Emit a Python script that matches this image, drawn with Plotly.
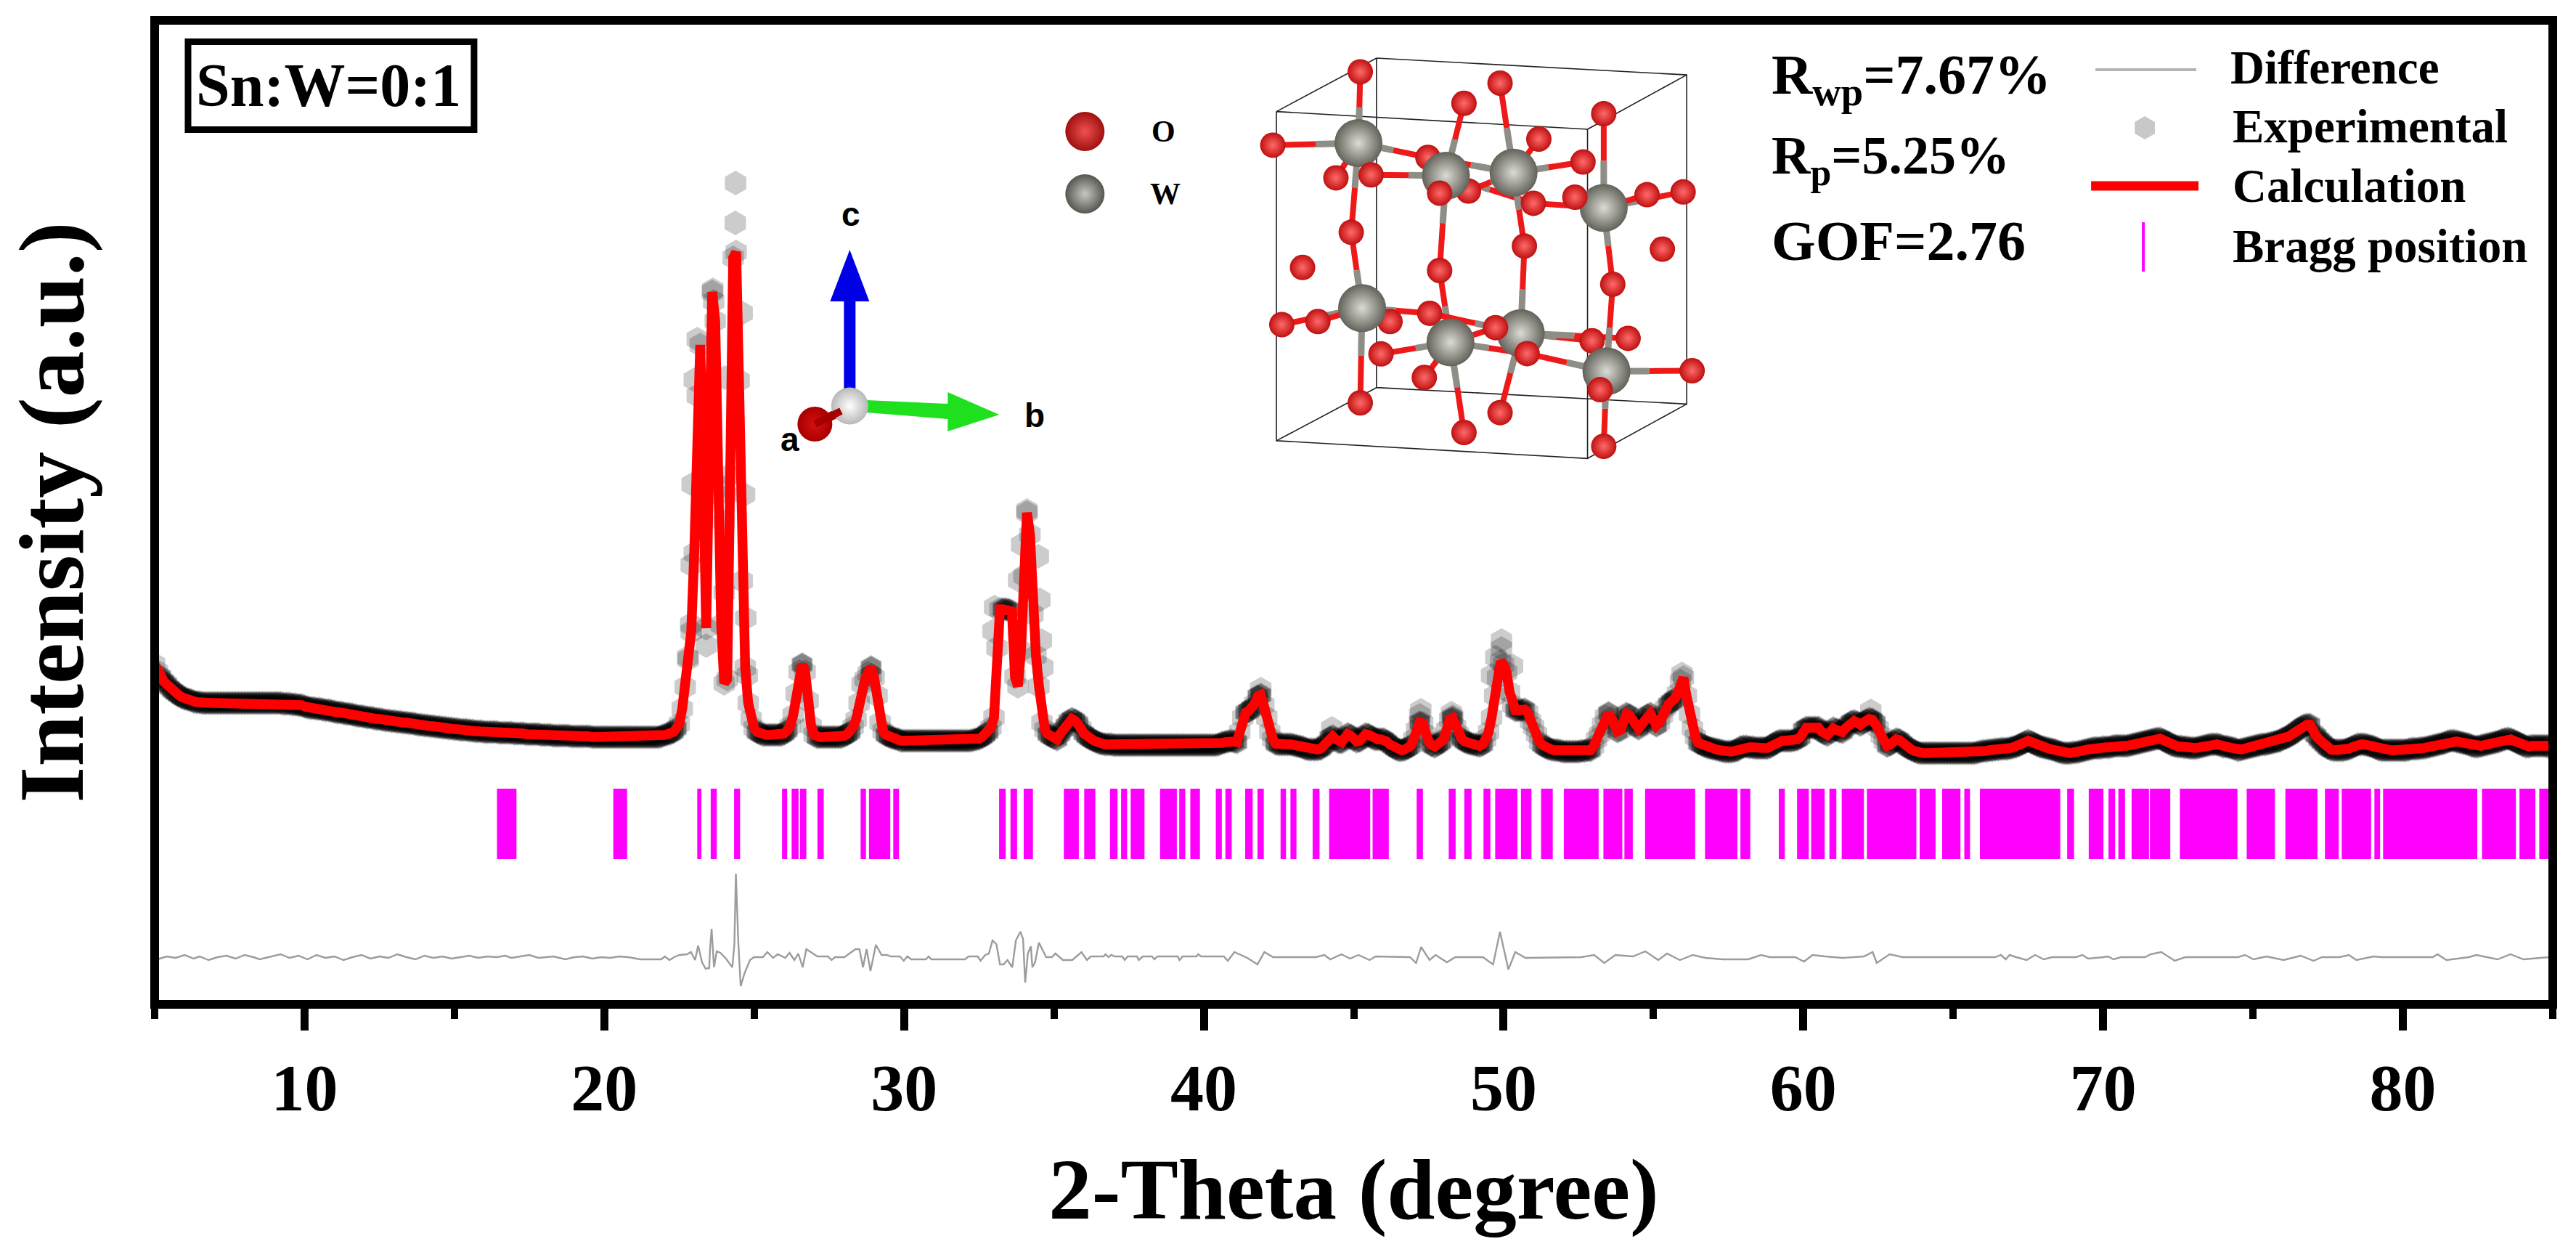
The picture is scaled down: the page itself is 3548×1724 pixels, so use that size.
import plotly.graph_objects as go

# ---------- data (intensity in arbitrary units) ----------
calc_intensity = [
468,458,451,445,441,436,432,429,426,423,
421,420,419,417,416,416,415,415,415,415,
415,415,415,415,415,415,415,415,415,415,
415,415,415,415,415,415,415,415,415,415,
415,415,415,414,414,414,413,413,412,412,
410,409,408,408,407,407,406,405,405,404,
403,402,402,401,400,400,399,398,397,397,
396,395,395,394,393,393,392,391,391,390,
390,389,389,388,388,387,387,386,385,385,
384,384,383,383,382,382,381,381,380,380,
379,379,378,378,378,377,377,376,376,376,
375,375,375,375,375,374,374,374,374,374,
373,373,373,373,372,372,372,372,372,371,
371,371,371,370,370,370,370,370,370,369,
369,369,369,369,369,369,368,368,368,368,
368,368,368,368,368,368,368,368,368,368,
368,368,368,368,368,368,368,368,368,369,
371,372,373,375,380,386,407,437,475,513,
621,838,908,729,518,757,981,941,702,523,
442,448,729,1028,1036,859,583,464,415,393,
380,375,373,371,371,371,371,371,371,371,
373,377,383,398,428,458,468,458,418,383,
371,368,368,368,368,368,368,368,368,368,
370,372,375,382,392,415,441,448,456,464,
450,425,388,376,371,369,367,366,365,363,
363,363,363,363,363,363,363,363,363,363,
363,363,363,363,363,363,363,363,363,363,
363,363,363,364,365,366,368,371,375,381,
395,491,544,544,544,543,541,451,438,487,
590,677,647,537,480,438,388,378,372,369,
367,365,372,378,384,390,393,391,387,380,
373,369,366,364,362,360,359,358,358,358,
357,357,357,357,357,357,357,357,357,357,
357,357,357,357,357,357,357,357,357,357,
357,357,357,357,357,357,357,357,357,357,
357,357,357,357,357,358,360,361,362,363,
362,361,375,395,402,404,408,414,424,426,
412,395,375,365,359,358,358,358,358,358,
357,356,355,354,352,351,351,351,351,352,
356,360,367,369,365,361,361,367,372,370,
365,362,363,368,372,371,368,365,365,365,
365,362,358,355,352,350,350,351,353,356,
365,378,388,387,372,362,357,355,358,361,
365,378,392,394,382,372,366,362,360,359,
358,357,356,358,365,375,395,425,450,472,
468,457,430,412,405,405,405,406,402,390,
382,372,361,357,354,352,351,350,350,349,
348,348,348,348,348,348,349,349,350,350,
355,365,372,385,396,401,394,384,376,378,
390,400,398,390,384,380,385,392,398,400,
392,384,388,398,408,413,417,420,428,445,
450,425,400,380,368,360,358,356,354,353,
352,351,350,349,348,348,348,349,350,354,
355,355,354,354,353,353,353,353,353,355,
358,361,363,363,363,363,363,364,365,368,
378,381,381,381,381,381,376,373,371,375,
380,378,376,375,380,385,389,390,388,385,
388,391,393,392,388,380,370,362,356,358,
362,365,364,360,356,353,351,349,347,346,
346,346,346,346,346,346,346,346,346,346,
346,346,346,346,346,346,346,346,347,348,
349,349,350,350,351,351,352,352,352,353,
354,355,357,359,361,363,361,359,357,355,
354,353,352,351,350,348,347,346,346,346,
347,347,348,349,350,351,352,353,353,353,
354,354,354,355,356,356,356,356,356,357,
358,359,360,361,362,363,364,365,366,366,
364,362,360,357,356,355,355,354,354,353,
353,353,354,355,356,357,358,358,358,357,
355,355,354,353,352,350,351,352,353,354,
355,356,357,358,358,359,360,361,362,363,
366,367,369,372,375,378,381,384,385,385,
374,370,365,361,357,353,351,350,350,350,
350,351,352,354,356,358,358,358,357,356,
355,353,351,350,350,350,350,350,350,350,
350,350,351,352,352,352,353,353,354,355,
356,357,358,359,360,362,363,363,362,361,
360,359,358,356,355,355,356,357,358,359,
360,361,362,364,365,366,365,363,361,359,
357,355,355,356,356,356,356,356,356,356,
351]
assert len(calc_intensity) == 801
two_theta = [round(5 + 0.1 * i, 1) for i in range(len(calc_intensity))]

# experimental points that stand clear of the calculated line
exp_extra_x = [24.38,24.37,23.62,23.1,23.65,24.6,23.0,24.02,22.93,24.68,22.9,22.88,24.72,24.0,24.0,23.4,22.78,24.77,23.9,
               34.1,34.48,33.82,34.53,34.58,33.92,32.97,33.02,34.63,
               49.93,49.93,49.74,50.3,49.6,47.24,47.2,48.26,48.3,55.95,44.27,28.9,41.9,62.25]
exp_extra_y = [1131,1076,984,916,968,952,860,863,716,702,605,523,532,664,567,494,478,453,713,
               680,617,584,557,501,633,514,547,464,
               501,490,478,466,453,405,398,401,396,455,380,453,434,404]

diff_x = [5.1,5.4,5.7,6.0,6.3,6.5,6.8,7.1,7.4,7.7,8.0,8.3,8.5,8.9,9.2,9.5,9.8,10.1,10.4,10.7,11.0,11.3,11.6,11.9,12.2,12.5,12.8,13.1,13.4,13.7,14.0,
          14.3,14.6,14.9,15.2,15.5,15.8,16.1,16.4,16.7,16.9,17.2,17.5,17.8,18.1,18.3,18.7,19.0,19.3,19.6,19.9,20.2,20.5,20.8,21.2,21.65,
          21.9,22.02,22.17,22.33,22.51,22.76,22.89,23.03,23.13,23.26,23.38,23.5,23.53,23.58,23.66,23.75,23.87,24.06,24.27,24.34,24.39,24.47,24.55,24.68,24.86,24.99,
          25.29,25.44,25.63,25.79,26.04,26.18,26.34,26.47,26.62,26.74,26.96,27.11,27.46,27.58,27.7,28.01,28.38,28.51,28.63,28.75,28.88,29.06,29.25,29.43,29.56,29.86,29.99,30.11,30.24,
          30.73,30.82,30.91,32.03,32.15,32.46,32.55,32.71,32.83,32.95,33.08,33.2,33.32,33.45,33.61,33.73,33.88,33.97,34.04,34.13,34.23,34.28,34.37,34.5,34.74,34.93,35.05,35.3,35.61,35.92,
          36.1,36.23,36.66,36.72,36.82,36.91,37.03,37.28,37.36,37.46,37.77,37.83,37.96,38.27,38.35,38.45,39.13,39.19,39.29,39.75,39.81,39.91,40.67,40.8,
          41.02,41.45,41.79,42.02,42.31,43.73,44.02,44.22,44.59,44.88,45.16,45.53,45.73,46.88,47.08,47.25,47.53,47.73,48.11,48.39,49.31,49.65,49.88,50.16,50.39,50.73,
          52.59,53.02,53.36,53.73,54.31,54.73,55.16,55.45,55.88,56.31,56.73,57.31,58.16,58.59,58.88,59.73,60.02,60.31,60.73,61.31,62.02,62.31,62.45,62.88,63.31,
          66.4,66.59,66.75,66.88,67.1,67.45,67.73,68.02,68.3,69.1,69.31,69.5,70.0,70.16,70.35,70.59,70.85,71.4,71.59,71.94,72.39,72.74,
          74.5,74.73,75.02,75.45,76.02,76.59,77.02,77.3,77.88,78.2,78.45,79.02,79.3,81.0,81.16,81.45,82.2,82.45,83.16,83.59,84.02,84.88]
diff_y = [62,66,64,68,63,66,61,65,67,63,68,65,62,66,69,64,67,62,68,64,66,61,65,68,63,66,64,69,65,62,67,
          64,66,63,65,67,64,66,65,67,64,66,68,64,65,66,62,65,66,63,65,64,66,65,62,62,
          62,66,61,65,68,69,72,61,81,58,49,50,78,104,51,73,71,63,51,83,180,86,25,43,61,65,
          65,72,64,69,64,71,61,70,51,76,70,66,66,61,65,65,76,76,51,76,46,82,68,68,66,66,60,66,62,
          62,66,62,62,66,66,60,68,70,88,83,55,55,61,51,88,100,90,30,70,80,51,58,85,65,65,70,61,61,72,
          61,66,66,69,65,68,66,66,61,66,66,61,66,66,62,66,66,61,66,66,69,66,66,60,
          72,64,55,72,65,65,68,62,69,63,68,61,66,65,57,79,61,68,58,65,65,55,100,48,72,64,
          65,68,57,68,66,73,61,70,61,68,64,62,62,68,65,65,59,68,66,64,66,72,57,69,65,
          65,68,62,68,65,61,68,62,65,65,68,63,65,66,62,65,65,65,69,72,60,65,
          65,68,62,66,61,67,60,65,65,68,61,66,65,65,69,61,65,68,62,69,62,65]
assert len(diff_x) == len(diff_y)

bragg_start = [16.42,20.3,23.1,23.55,24.33,25.93,26.25,26.53,27.11,28.55,28.83,29.64,33.17,33.55,33.99,35.33,36.01,36.87,37.24,37.56,38.54,39.18,39.55,40.4,40.72,41.38,41.79,42.56,42.89,
               43.63,44.18,45.63,47.1,48.17,48.69,49.33,49.72,50.58,51.25,52.01,53.33,54.03,54.72,56.72,57.9,59.18,59.79,60.26,60.87,61.28,62.12,63.88,64.63,65.37,65.89,68.8,69.52,70.18,70.51,70.95,
               71.56,72.56,74.79,76.08,77.4,77.96,79.05,79.34,82.64,83.89,84.55]
bragg_end = [17.07,20.76,23.24,23.75,24.53,26.1,26.48,26.74,27.32,28.73,29.54,29.83,33.39,33.77,34.3,35.83,36.38,37.12,37.44,38.02,39.1,39.38,39.87,40.6,40.93,41.63,42.0,42.74,43.09,
             43.86,45.55,46.17,47.31,48.4,48.93,49.56,50.46,50.93,51.64,53.17,53.96,54.31,56.39,57.8,58.23,59.38,60.18,60.71,61.1,62.02,63.77,64.41,65.24,65.56,68.57,69.03,70.01,70.4,70.73,71.53,
             72.24,74.48,75.73,77.15,77.86,78.94,79.24,82.48,83.77,84.42,84.86]
bragg_low, bragg_height = 200, 97

x_ticks = [10, 20, 30, 40, 50, 60, 70, 80]

# ---------- styling ----------
SERIF = "Liberation Serif"
W, H = 3548, 1724
L, R, T, B = 212.5, 3516, 28, 1383

fig = go.Figure()

# Bragg markers
fig.add_trace(go.Bar(
    x=[(a + b) / 2 for a, b in zip(bragg_start, bragg_end)],
    width=[b - a for a, b in zip(bragg_start, bragg_end)],
    y=[bragg_height] * len(bragg_start), base=[bragg_low] * len(bragg_start),
    marker=dict(color="#ff00ff", line=dict(width=0)), name="Bragg position", showlegend=False))

# Difference
fig.add_trace(go.Scatter(x=diff_x, y=diff_y, mode="lines", line=dict(color="#9c9c9c", width=2.4),
                         name="Difference", showlegend=False))

# Experimental: translucent hexagons that build up to black where they pile up
exp_x = two_theta + exp_extra_x
exp_y = calc_intensity + exp_extra_y
fig.add_trace(go.Scatter(x=exp_x, y=exp_y, mode="markers", name="Experimental", showlegend=False,
                         marker=dict(symbol="hexagon", size=34, color="rgba(0,0,0,0.2)", line=dict(width=0))))
flat = [i for i in range(1, 800) if abs(calc_intensity[i + 1] - calc_intensity[i - 1]) < 14]
fig.add_trace(go.Scatter(x=[two_theta[i] for i in flat], y=[calc_intensity[i] for i in flat], mode="markers",
                         name="Experimental", showlegend=False,
                         marker=dict(symbol="hexagon", size=31, color="rgba(0,0,0,0.35)", line=dict(width=0))))

# Calculation
fig.add_trace(go.Scatter(x=two_theta, y=calc_intensity, mode="lines", name="Calculation", showlegend=False,
                         line=dict(color="#ff0000", width=13.5, shape="linear")))

# ---------- overlay in picture pixels: crystal inset, axis triad, legend ----------
def px(trace):
    trace.update(xaxis="x2", yaxis="y2", showlegend=False, hoverinfo="skip")
    fig.add_trace(trace)

def cx(z):
    return 1600 + z / 0.805

def cy(z):
    return z / 2.376

cell = [[(127,365),(472,423),(472,1500),(127,1442),(127,365)],
        [(238,190),(582,245),(582,1322),(238,1268),(238,190)],
        [(127,365),(238,190)], [(472,423),(582,245)], [(472,1500),(582,1322)], [(127,1442),(238,1268)]]
for seg in cell:
    px(go.Scatter(x=[cx(p[0]) for p in seg], y=[cy(p[1]) for p in seg], mode="lines",
                  line=dict(color="#222222", width=1.6)))

tungsten = [(218,468),(315,575),(390,565),(490,680),(222,1008),(320,1120),(398,1090),(493,1215)]
bonds = {0:[(220,235),(123,475),(193,582),(295,515),(210,760)],
         1:[(335,338),(232,572),(308,632),(308,885),(412,665)],
         2:[(375,272),(467,530),(418,455),(402,805),(295,515),(340,625)],
         3:[(490,372),(578,628),(538,637),(412,665),(458,645),(500,930)],
         4:[(210,760),(133,1062),(173,1052),(253,1052),(297,1025),(220,1318)],
         5:[(308,885),(243,1158),(405,1157),(291,1235),(335,1415),(370,1072)],
         6:[(402,805),(477,1115),(375,1350),(297,1025),(517,1107)],
         7:[(500,930),(588,1213),(405,1157),(486,1275),(490,1460)]}
for i, ends in bonds.items():
    wx, wy = tungsten[i]
    for ox, oy in ends:
        mx, my = (wx + ox) / 2, (wy + oy) / 2
        px(go.Scatter(x=[cx(wx), cx(mx)], y=[cy(wy), cy(my)], mode="lines", line=dict(color="#8e8e86", width=9)))
        px(go.Scatter(x=[cx(mx), cx(ox)], y=[cy(my), cy(oy)], mode="lines", line=dict(color="#ee1a1a", width=8)))

oxygen_back = [(220,235),(375,272),(335,338),(490,372),(418,455),(467,530),(193,582),(295,515),(340,625),(538,637),
               (133,1062),(253,1052),(297,1025),(517,1107),(477,1115)]
oxygen_front = [(123,475),(232,572),(308,632),(412,665),(458,645),(578,628),(210,760),(402,805),(555,815),(156,875),(308,885),(500,930),
                (173,1052),(370,1072),(243,1158),(405,1157),(291,1235),(588,1213),(486,1275),(220,1318),(375,1350),(335,1415),(490,1460)]
red_ball = dict(symbol="circle", size=35, color="#c01010", gradient=dict(type="radial", color="#ff6a6a"), line=dict(width=0))
grey_ball = dict(symbol="circle", size=66, color="#62625a", gradient=dict(type="radial", color="#dcdcd6"), line=dict(width=0))
px(go.Scatter(x=[cx(p[0]) for p in oxygen_back], y=[cy(p[1]) for p in oxygen_back], mode="markers", marker=red_ball))
px(go.Scatter(x=[cx(p[0]) for p in tungsten], y=[cy(p[1]) for p in tungsten], mode="markers", marker=grey_ball))
px(go.Scatter(x=[cx(p[0]) for p in oxygen_front], y=[cy(p[1]) for p in oxygen_front], mode="markers", marker=red_ball))

# atom key
px(go.Scatter(x=[1494], y=[181], mode="markers",
              marker=dict(size=54, color="#a01010", gradient=dict(type="radial", color="#f05050"), line=dict(width=0))))
px(go.Scatter(x=[1494], y=[267], mode="markers",
              marker=dict(size=54, color="#565650", gradient=dict(type="radial", color="#c8c8c2"), line=dict(width=0))))

# axis triad
px(go.Scatter(x=[1162,1178,1178,1197,1170,1143,1162,1162], y=[540,540,415,415,344,415,415,540], mode="lines", fill="toself",
              fillcolor="#0000e6", line=dict(width=0)))
px(go.Scatter(x=[1193,1305,1305,1376,1305,1305,1193,1193], y=[551,556,540,571,594,577,568,551], mode="lines", fill="toself",
              fillcolor="#1fe01f", line=dict(width=0)))
px(go.Scatter(x=[1122,1165], y=[584,563], mode="lines", line=dict(color="#a80000", width=12)))
px(go.Scatter(x=[1122], y=[584], mode="markers",
              marker=dict(size=48, color="#a80000", gradient=dict(type="radial", color="#d81010"), line=dict(width=0))))
px(go.Scatter(x=[1170], y=[559], mode="markers",
              marker=dict(size=51, color="#b8b8b8", gradient=dict(type="radial", color="#ffffff"), line=dict(width=0))))
px(go.Scatter(x=[1122,1158], y=[584,566], mode="lines", line=dict(color="#a80000", width=10)))

# legend samples
px(go.Scatter(x=[2886,3025], y=[96,96], mode="lines", line=dict(color="#b4b4b4", width=4)))
px(go.Scatter(x=[2954], y=[176], mode="markers", marker=dict(symbol="hexagon", size=32, color="#c8c8c8", line=dict(width=0))))
px(go.Scatter(x=[2880,3028], y=[256,256], mode="lines", line=dict(color="#ff0000", width=13)))
px(go.Scatter(x=[2952,2952], y=[306,374], mode="lines", line=dict(color="#ff00ff", width=4)))

def note(text, x, y, size, family=SERIF, anchor="left"):
    return dict(text=text, x=x, y=y, xref="x2", yref="y2", xanchor=anchor, yanchor="middle", showarrow=False,
                font=dict(family=family, size=size, color="black"))

annotations = [
    note("<b>Sn:W=0:1</b>", 452, 117, 84, anchor="center"),
    note("<b>R<sub>wp</sub>=7.67%</b>", 2438, 108, 78),
    note("<b>R<sub>p</sub>=5.25%</b>", 2438, 219, 74),
    note("<b>GOF=2.76</b>", 2438, 331, 78),
    note("<b>Difference</b>", 3070, 93, 65),
    note("<b>Experimental</b>", 3073, 174, 65),
    note("<b>Calculation</b>", 3073, 256, 65),
    note("<b>Bragg position</b>", 3073, 339, 65),
    note("<b>O</b>", 1602, 181, 42, anchor="center"),
    note("<b>W</b>", 1605, 267, 42, anchor="center"),
    note("<b>c</b>", 1172, 295, 46, family="Liberation Sans", anchor="center"),
    note("<b>a</b>", 1088, 605, 46, family="Liberation Sans", anchor="center"),
    note("<b>b</b>", 1425, 572, 46, family="Liberation Sans", anchor="center"),
]

shapes = [
    dict(type="rect", xref="paper", yref="paper", x0=0, x1=1, y0=0, y1=1, layer="above",
         line=dict(color="black", width=12), fillcolor="rgba(0,0,0,0)"),
    dict(type="rect", xref="x2", yref="y2", x0=258.5, x1=652.5, y0=57.5, y1=178.5, layer="above",
         line=dict(color="black", width=9), fillcolor="rgba(0,0,0,0)"),
]

fig.update_layout(
    width=W, height=H, autosize=False,
    margin=dict(l=L, r=W - R, t=T, b=H - B, pad=0),
    paper_bgcolor="white", plot_bgcolor="white", showlegend=False, barmode="overlay",
    font=dict(family=SERIF, color="black"),
    annotations=annotations, shapes=shapes,
    xaxis=dict(range=[5, 85], tickmode="array", tickvals=x_ticks, ticktext=[f"<b>{v}</b>" for v in x_ticks],
               ticks="outside", ticklen=35, tickwidth=11, tickcolor="black",
               minor=dict(tickmode="array", tickvals=[5, 15, 25, 35, 45, 55, 65, 75, 85], ticks="outside", ticklen=19, tickwidth=10, tickcolor="black"),
               tickfont=dict(family=SERIF, size=92, color="black"), showgrid=False, zeroline=False, showline=False,
               title=dict(text="<b>2-Theta (degree)</b>", font=dict(family=SERIF, size=119, color="black"), standoff=46)),
    yaxis=dict(range=[0, B - T], showticklabels=False, ticks="", showgrid=False, zeroline=False, showline=False,
               title=dict(text="<b>Intensity (a.u.)</b>", font=dict(family=SERIF, size=128, color="black"), standoff=70)),
    xaxis2=dict(overlaying="x", anchor="y2", range=[L, R], visible=False, fixedrange=True),
    yaxis2=dict(overlaying="y", anchor="x2", range=[B, T], visible=False, fixedrange=True),
)

fig.write_html("out.html", config=dict(displayModeBar=False),
               post_script="document.body.style.margin='0';document.documentElement.style.overflow='hidden';")
